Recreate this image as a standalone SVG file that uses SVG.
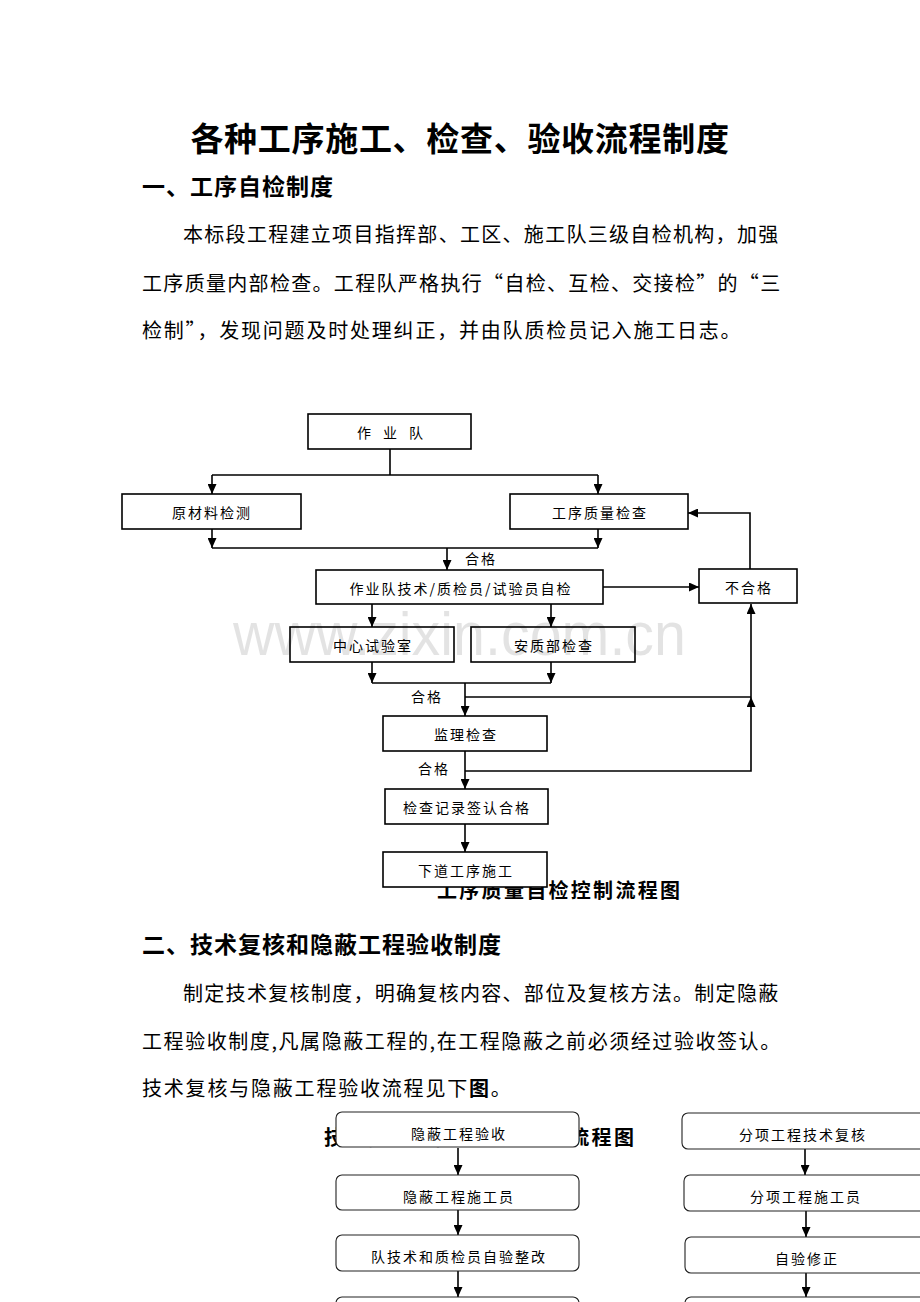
<svg xmlns="http://www.w3.org/2000/svg" width="920" height="1302" viewBox="0 0 920 1302">
<defs>
<marker id="ah" markerUnits="userSpaceOnUse" markerWidth="10" markerHeight="9" refX="10" refY="4.5" orient="auto">
<path d="M0,0 L10,4.5 L0,9 z" fill="#000"/>
</marker>
<style>
text{font-family:"Noto Sans CJK SC","Noto Sans",sans-serif;fill:#000;dominant-baseline:central}
.title{font-size:33px;font-weight:bold;letter-spacing:0.7px}
.h{font-size:23px;font-weight:bold;letter-spacing:1px}
.p{font-size:20px;letter-spacing:1.8px}
.cap{font-size:20px;font-weight:bold;letter-spacing:2.3px}
.box rect{fill:#fff;stroke:#000;stroke-width:1.6}
.rbox rect{fill:#fff;stroke:#222;stroke-width:1.1}
.box text,.rbox text,.lbl{font-size:14px;letter-spacing:2px;text-anchor:middle}
.lbl{text-anchor:start}
.c path{fill:none;stroke:#000;stroke-width:1.6}
.c path.a{marker-end:url(#ah)}
.wm{font-family:"Liberation Sans",Arial,sans-serif;font-size:62px;fill:#000;fill-opacity:0.11;dominant-baseline:alphabetic}
</style>
</defs>
<rect width="920" height="1302" fill="#fff"/>

<text class="title" x="460" y="137" text-anchor="middle">各种工序施工、检查、验收流程制度</text>
<text class="h" x="142" y="185">一、工序自检制度</text>
<text class="p" x="183" y="233" textLength="597" lengthAdjust="spacing">本标段工程建立项目指挥部、工区、施工队三级自检机构，加强</text>
<text class="p" x="142" y="282" textLength="640" lengthAdjust="spacing">工序质量内部检查。工程队严格执行“自检、互检、交接检”的“三</text>
<text class="p" x="142" y="329">检制”，发现问题及时处理纠正，并由队质检员记入施工日志。</text>

<text class="cap" x="437" y="889">工序质量自检控制流程图</text>

<g class="c" id="connectors1">
<path d="M390,449 V475 M212,475 H598"/>
<path class="a" d="M212,475 V494"/>
<path class="a" d="M598,475 V494"/>
<path class="a" d="M212,529 V548"/>
<path class="a" d="M598,529 V548"/>
<path d="M212,548 H598"/>
<path class="a" d="M447,548 V570"/>
<path class="a" d="M603,587 H699"/>
<path class="a" d="M750,569 V513 H688"/>
<path class="a" d="M372,604 V627"/>
<path class="a" d="M551,604 V627"/>
<path class="a" d="M372,662 V683"/>
<path class="a" d="M551,662 V683"/>
<path d="M372,683 H551"/>
<path class="a" d="M465,683 V716"/>
<path d="M465,697 H751"/>
<path class="a" d="M751,697 V604"/>
<path class="a" d="M465,751 V789"/>
<path class="a" d="M465,771 H751 V697"/>
<path class="a" d="M465,824 V852"/>
</g>

<g class="box" id="n-zuoyedui"><rect x="308" y="414" width="163" height="35"/><text x="390" y="432" textLength="66" lengthAdjust="spacing" style="letter-spacing:0">作 业 队</text></g>
<g class="box" id="n-yuancailiao"><rect x="122" y="494" width="179" height="35"/><text x="212" y="512">原材料检测</text></g>
<g class="box" id="n-gongxu"><rect x="510" y="494" width="178" height="35"/><text x="600" y="512">工序质量检查</text></g>
<text class="lbl" x="465" y="558">合格</text>
<g class="box" id="n-zijian"><rect x="316" y="570" width="287" height="34"/><text x="461" y="588">作业队技术/质检员/试验员自检</text></g>
<g class="box" id="n-buhege"><rect x="699" y="569" width="98" height="34"/><text x="749" y="587">不合格</text></g>
<g class="box" id="n-zhongxin"><rect x="290" y="627" width="164" height="35"/><text x="373" y="645">中心试验室</text></g>
<g class="box" id="n-anzhi"><rect x="471" y="627" width="164" height="35"/><text x="554" y="645">安质部检查</text></g>
<text class="lbl" x="411" y="696">合格</text>
<g class="box" id="n-jianli"><rect x="383" y="716" width="164" height="35"/><text x="466" y="734">监理检查</text></g>
<text class="lbl" x="418" y="768">合格</text>
<g class="box" id="n-jilu"><rect x="385" y="789" width="163" height="35"/><text x="467" y="807">检查记录签认合格</text></g>
<g class="box" id="n-xiadao"><rect x="383" y="852" width="164" height="35"/><text x="466" y="870">下道工序施工</text></g>

<text class="h" x="142" y="943">二、技术复核和隐蔽工程验收制度</text>
<text class="p" x="183" y="992" textLength="597" lengthAdjust="spacing">制定技术复核制度，明确复核内容、部位及复核方法。制定隐蔽</text>
<text class="p" x="142" y="1040" textLength="640" lengthAdjust="spacing">工程验收制度,凡属隐蔽工程的,在工程隐蔽之前必须经过验收签认。</text>
<text class="p" x="142" y="1087">技术复核与隐蔽工程验收流程见下<tspan font-weight="bold">图</tspan>。</text>

<text class="cap" x="324" y="1136">技术复核与隐蔽工程验收流程图</text>

<g class="c" id="connectors2">
<path class="a" d="M458,1148 V1175"/>
<path class="a" d="M458,1210 V1235"/>
<path class="a" d="M458,1271 V1297"/>
<path class="a" d="M805,1149 V1175"/>
<path class="a" d="M806,1211 V1237"/>
<path class="a" d="M806,1273 V1297"/>
</g>

<g class="rbox" id="n-yinbi-ys"><rect x="336" y="1112" width="243" height="35" rx="6"/><text x="459" y="1133">隐蔽工程验收</text></g>
<g class="rbox" id="n-yinbi-sg"><rect x="336" y="1175" width="243" height="35" rx="6"/><text x="459" y="1196">隐蔽工程施工员</text></g>
<g class="rbox" id="n-dui-zg"><rect x="336" y="1235" width="243" height="36" rx="6"/><text x="459" y="1256">队技术和质检员自验整改</text></g>
<g class="rbox" id="n-left4"><rect x="336" y="1297" width="243" height="30" rx="6"/></g>
<g class="rbox" id="n-fx-fh"><rect x="682" y="1113" width="260" height="36" rx="6"/><text x="803" y="1134">分项工程技术复核</text></g>
<g class="rbox" id="n-fx-sg"><rect x="684" y="1175" width="260" height="36" rx="6"/><text x="806" y="1196">分项工程施工员</text></g>
<g class="rbox" id="n-zy-xz"><rect x="685" y="1237" width="260" height="36" rx="6"/><text x="807" y="1258">自验修正</text></g>
<g class="rbox" id="n-right4"><rect x="685" y="1297" width="260" height="30" rx="6"/></g>

<text class="wm" x="233" y="655" textLength="453" lengthAdjust="spacingAndGlyphs">www.zixin.com.cn</text>
</svg>
